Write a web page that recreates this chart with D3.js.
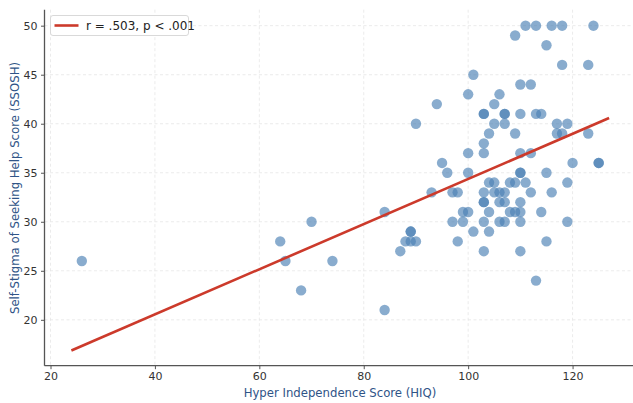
<!DOCTYPE html>
<html><head><meta charset="utf-8">
<script src="https://cdn.jsdelivr.net/npm/d3@7/dist/d3.min.js"></script>
<style>body{margin:0;background:#fff}svg{display:block}</style>
</head><body>
<svg id="c" width="633" height="403"></svg>
<script>
const hiq = [26,64,65,68,70,74,84,84,87,88,89,90,89,89,90,93,94,95,96,97,98,97,99,99,100,98,
100,100,100,101,101,103,103,103,103,103,103,103,103,103,
104,104,104,104,105,105,105,105,106,106,106,106,107,107,107,107,107,107,
108,108,109,109,109,109,110,110,110,110,110,110,110,110,110,111,111,112,112,112,
113,113,113,114,114,115,115,115,116,116,117,117,118,118,118,119,119,119,120,123,123,124,125,125];
const ssosh = [26,28,26,23,30,26,31,21,27,28,28,28,29,29,40,33,42,36,35,33,33,30,30,31,31,28,
43,37,35,45,29,41,41,38,37,33,32,32,30,27,
39,34,31,29,42,40,34,33,43,33,32,30,41,41,40,33,32,30,
34,31,49,39,34,31,44,41,37,35,35,32,31,30,27,50,34,44,37,33,
50,41,24,41,31,48,35,28,50,33,40,39,50,46,39,40,34,30,36,46,39,50,36,36];
const xTicks = [20,40,60,80,100,120];
const yTicks = [20,25,30,35,40,45,50];
const fitX = [24,127];
const fitY = [16.87,40.58];
const legendText = "r = .503, p < .001";

const svg = d3.select("#c");
const x = d3.scaleLinear().domain([18.85,132.15]).range([44.5,636]);
const y = d3.scaleLinear().domain([15.32,51.63]).range([365.7,9.7]);
const font = "DejaVu Sans, sans-serif";

// grid
svg.append("g").selectAll("line").data(xTicks).join("line")
  .attr("x1",d=>x(d)).attr("x2",d=>x(d)).attr("y1",9.7).attr("y2",365.7)
  .attr("stroke","#e6e6e6").attr("stroke-width",0.8).attr("stroke-dasharray","3,2.5");
svg.append("g").selectAll("line").data(yTicks).join("line")
  .attr("y1",d=>y(d)).attr("y2",d=>y(d)).attr("x1",44.5).attr("x2",633)
  .attr("stroke","#e6e6e6").attr("stroke-width",0.8).attr("stroke-dasharray","3,2.5");

// points
svg.append("g").selectAll("circle").data(hiq.map((v,i)=>[v,ssosh[i]])).join("circle")
  .attr("cx",d=>x(d[0])).attr("cy",d=>y(d[1])).attr("r",5.2)
  .attr("fill","#4a7fb3").attr("fill-opacity",0.65);

// fit line
svg.append("line").attr("x1",x(fitX[0])).attr("y1",y(fitY[0]))
  .attr("x2",x(fitX[1])).attr("y2",y(fitY[1]))
  .attr("stroke","#cc3a2b").attr("stroke-width",2.6);

// axes
const xa = svg.append("g").attr("transform","translate(0,365.7)")
  .call(d3.axisBottom(x).tickValues(xTicks).tickSize(3.5).tickPadding(3.5).tickFormat(d3.format("d")));
const ya = svg.append("g").attr("transform","translate(44.5,0)")
  .call(d3.axisLeft(y).tickValues(yTicks).tickSize(3.5).tickPadding(3.5).tickFormat(d3.format("d")));
[xa,ya].forEach(a=>{
  a.select(".domain").attr("stroke","#555").attr("stroke-width",1.3);
  a.selectAll(".tick line").attr("stroke","#555").attr("stroke-width",1);
  a.selectAll(".tick text").attr("fill","#333").attr("font-size",11).attr("font-family",font);
});
xa.select(".domain").attr("d","M44.5,0H636");
ya.select(".domain").attr("d","M0,9.7V365.7");

// axis labels
svg.append("text").attr("x",340).attr("y",397).attr("text-anchor","middle")
  .attr("font-family",font).attr("font-size",11.7).attr("fill","#2f5487")
  .text("Hyper Independence Score (HIQ)");
svg.append("text").attr("transform","translate(19,188) rotate(-90)").attr("text-anchor","middle")
  .attr("font-family",font).attr("font-size",11.7).attr("fill","#2f5487")
  .text("Self-Stigma of Seeking Help Score (SSOSH)");

// legend
const lg = svg.append("g");
lg.append("rect").attr("x",50.5).attr("y",15.5).attr("width",138).attr("height",20).attr("rx",2.5)
  .attr("fill","#fff").attr("fill-opacity",0.9).attr("stroke","#d5d5d5").attr("stroke-width",0.9);
lg.append("line").attr("x1",54.5).attr("x2",78.5).attr("y1",25.5).attr("y2",25.5)
  .attr("stroke","#cc3a2b").attr("stroke-width",2.6);
lg.append("text").attr("x",86).attr("y",30).attr("font-family",font).attr("font-size",12)
  .attr("fill","#222").text(legendText);
</script>
</body></html>
